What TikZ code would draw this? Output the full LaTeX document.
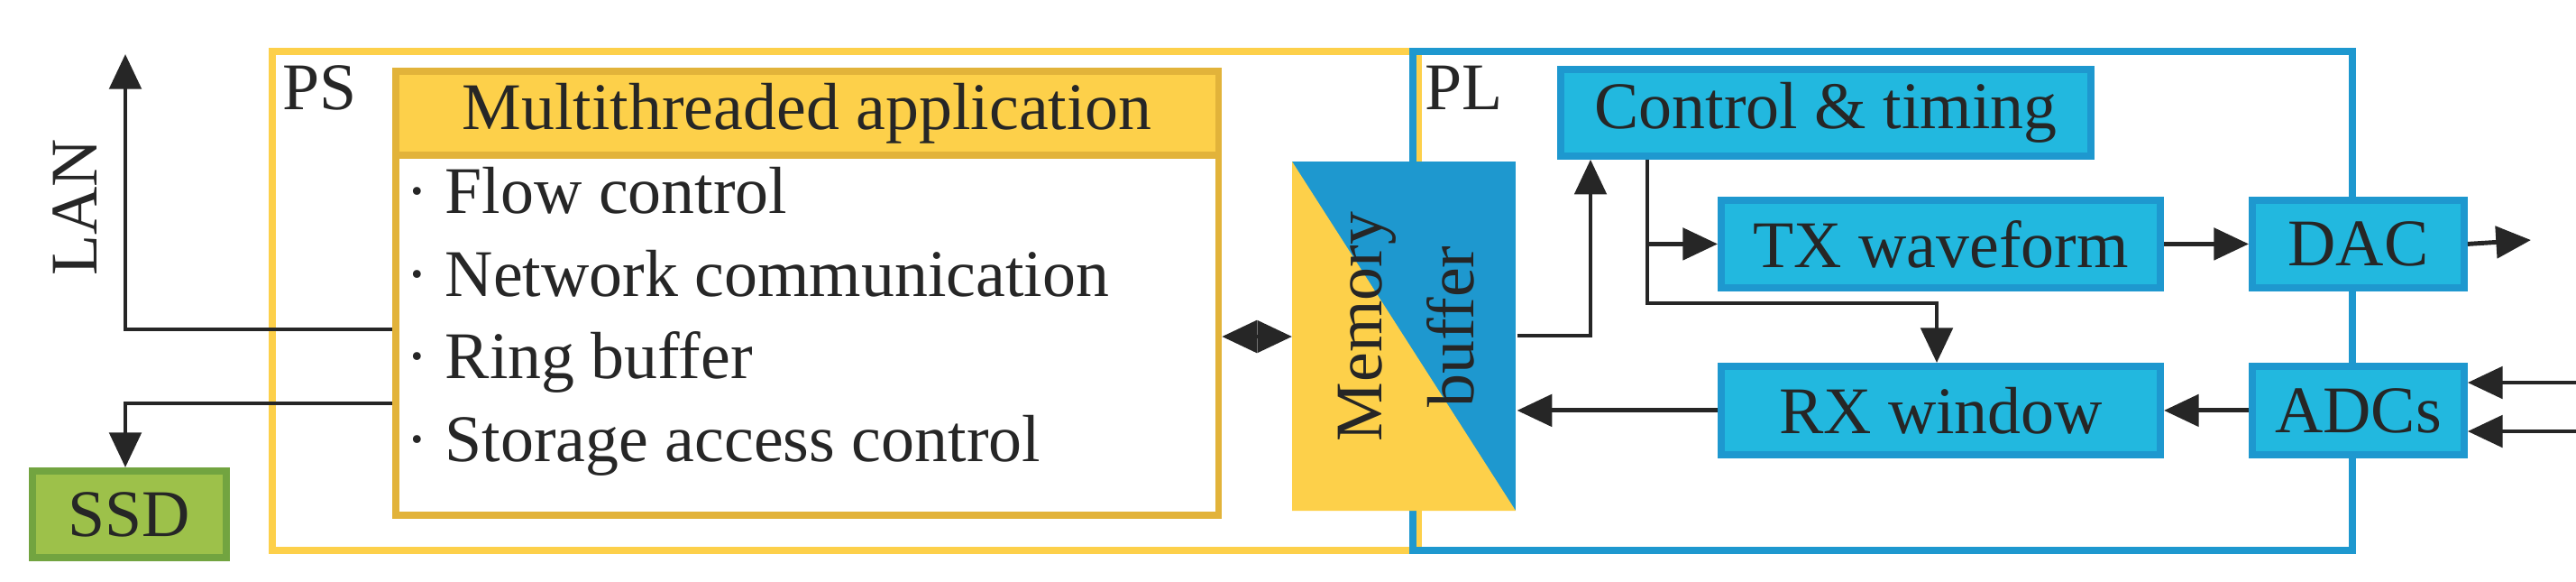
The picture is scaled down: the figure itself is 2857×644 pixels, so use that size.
\documentclass[tikz,border=0pt]{standalone}
\usepackage{fontspec}
\setmainfont{Liberation Serif}
\usetikzlibrary{arrows.meta}
\definecolor{ylw}{HTML}{FDD04A}
\definecolor{ylwd}{HTML}{E2B33A}
\definecolor{blu}{HTML}{22B8DF}
\definecolor{blud}{HTML}{1E98CF}
\definecolor{grn}{HTML}{9DC14A}
\definecolor{grnd}{HTML}{72A440}
\definecolor{ink}{HTML}{262626}
\begin{document}
\begin{tikzpicture}[x=0.01cm,y=-0.01cm,
  every node/.style={font=\fontsize{21}{24}\selectfont,text=ink,inner sep=0pt},
  blk/.style={draw=blud,fill=blu,line width=2.2pt},
  con/.style={draw=ink,line width=1.4pt,-{Triangle[length=11pt,width=10pt]}},
  conn/.style={draw=ink,line width=1.4pt}]
\useasboundingbox (0,0) rectangle (2857,644);
% containers
\draw[ylw,line width=2.2pt] (302,57) rectangle (1573,610);
\draw[blud,line width=2.2pt] (1567,57) rectangle (2609,610);
\node[anchor=north west] (ps) at (313,72) {PS};
\node[anchor=north west] (pl) at (1580,72) {PL};
% multithreaded app
\node[draw=ylwd,fill=ylw,line width=2.2pt,minimum width=9.12cm,minimum height=0.94cm,anchor=north west] (app) at (435,75) {Multithreaded application};
\node[draw=ylwd,fill=white,line width=2.2pt,minimum width=9.12cm,minimum height=3.99cm,anchor=north west] (body) at (435,168) {};
\node[anchor=base west] (l1) at (450,236) {· Flow control};
\node[anchor=base west] (l2) at (450,328) {· Network communication};
\node[anchor=base west] (l3) at (450,419) {· Ring buffer};
\node[anchor=base west] (l4) at (450,511) {· Storage access control};
% SSD
\node[draw=grnd,fill=grn,line width=2.2pt,minimum width=2.15cm,minimum height=0.96cm,anchor=north west] (ssd) at (32,518) {SSD};
% LAN
\coordinate (lant) at (139,60);
\node[rotate=90] (lan) at (83,230) {LAN};
\draw[con] (body.west |- 0,365) -| (lant);
\draw[con] (body.west |- 0,447) -| (ssd.north -| 139,0);
% memory buffer
\fill[blud] (1433,179) rectangle (1681,566);
\fill[ylw] (1433,179) -- (1681,566) -- (1433,566) -- cycle;
\node[draw=none,minimum width=2.48cm,minimum height=3.87cm,anchor=north west] (mem) at (1433,179) {};
\node[rotate=90] (memt) at (1516,362) {Memory};
\node[rotate=90] (buft) at (1609,362) {buffer};
\draw[conn,{Triangle[length=11pt,width=10pt]}-{Triangle[length=11pt,width=10pt]}] (body.east |- 0,373) -- (mem.west |- 0,373);
% PL blocks
\node[blk,minimum width=5.88cm,minimum height=0.96cm,anchor=north west] (ctl) at (1727,73) {Control \& timing};
\node[blk,minimum width=4.87cm,minimum height=0.97cm,anchor=north west] (tx) at (1905,218) {TX waveform};
\node[blk,minimum width=2.35cm,minimum height=0.97cm,anchor=north west] (dac) at (2494,218) {DAC};
\node[blk,minimum width=4.87cm,minimum height=0.98cm,anchor=north west] (rx) at (1905,402) {RX window};
\node[blk,minimum width=2.35cm,minimum height=0.98cm,anchor=north west] (adc) at (2494,402) {ADCs};
\coordinate (dout) at (2807,266);
\coordinate (in1) at (2857,424);
\coordinate (in2) at (2857,478);
% connectors
\draw[con] (mem.east |- 0,372) -| (ctl.south -| 1764,0);
\draw[con] (ctl.south -| 1827,0) |- (tx.west);
\draw[con] (ctl.south -| 1827,0) |- (2148,336) -- (rx.north -| 2148,0);
\draw[con] (tx.east) -- (dac.west);
\draw[con] (dac.east) -- (dout);
\draw[con] (adc.west) -- (rx.east);
\draw[con] (rx.west) -- (mem.east |- rx.west);
\draw[con] (in1) -- (adc.east |- in1);
\draw[con] (in2) -- (adc.east |- in2);
\end{tikzpicture}
\end{document}
